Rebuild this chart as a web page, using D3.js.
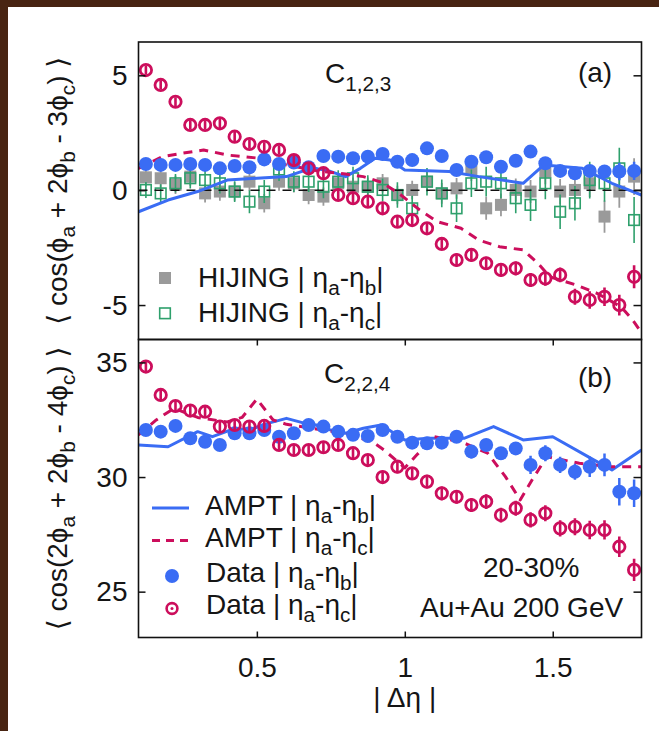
<!DOCTYPE html>
<html><head><meta charset="utf-8">
<script src="https://cdn.jsdelivr.net/npm/d3@7"></script>
<style>
html,body{margin:0;padding:0;background:#fff;}
svg{display:block;}
text{font-family:"Liberation Sans",Arial,Helvetica,"DejaVu Sans",sans-serif;fill:#151515;}
</style></head><body>
<svg id="chart" width="659" height="731"></svg>
<script>
// |Δη| bin centres shared by every measured / HIJING series
const dEta = [0.125,0.175,0.225,0.275,0.325,0.375,0.425,0.475,0.525,0.575,0.625,0.675,0.725,0.775,0.825,0.875,0.925,0.975,1.025,1.075,1.125,1.175,1.225,1.275,1.325,1.375,1.425,1.475,1.525,1.575,1.625,1.675,1.725,1.775];

// ---- panel (a): C_{1,2,3} ----
const c123DataB = [1.14,1.10,1.10,1.14,1.10,0.95,1.05,1.00,1.34,1.14,1.20,1.00,1.49,1.46,1.39,1.46,1.58,1.24,1.31,1.82,1.49,0.88,1.24,1.43,1.02,1.28,1.68,1.17,0.84,0.74,0.84,0.81,0.81,0.84];
const c123DataBErr = [0.12,0.12,0.12,0.12,0.12,0.12,0.12,0.12,0.12,0.12,0.12,0.12,0.12,0.12,0.12,0.12,0.12,0.14,0.14,0.14,0.14,0.14,0.15,0.15,0.15,0.16,0.16,0.18,0.2,0.22,0.25,0.28,0.38,0.4];
const c123DataC = [5.23,4.58,3.85,2.84,2.84,2.91,2.33,2.01,1.89,1.75,1.31,0.95,0.74,-0.21,-0.35,-0.50,-0.79,-1.37,-1.30,-1.66,-2.34,-3.04,-2.82,-3.18,-3.47,-3.40,-3.91,-3.84,-3.69,-4.64,-4.78,-4.64,-5.00,-3.77];
const c123DataCErr = [0.2,0.2,0.2,0.2,0.2,0.2,0.2,0.2,0.2,0.2,0.22,0.22,0.22,0.22,0.22,0.22,0.25,0.25,0.25,0.25,0.25,0.28,0.28,0.28,0.3,0.3,0.3,0.32,0.32,0.35,0.38,0.4,0.45,0.5];
const c123HijingB = [0.56,0.52,0.23,0.59,-0.14,-0.06,-0.06,0.37,-0.57,0.37,0.30,-0.21,-0.28,0.30,0.15,0.15,0.30,-0.21,0.01,0.37,-0.14,0.08,0.90,-0.79,-0.64,0.01,-0.06,0.81,-0.06,0.01,0.30,-1.15,-0.06,0.59];
const c123HijingBErr = [0.4,0.4,0.4,0.4,0.4,0.4,0.4,0.4,0.4,0.4,0.4,0.4,0.4,0.4,0.4,0.4,0.4,0.4,0.4,0.45,0.45,0.45,0.5,0.5,0.5,0.5,0.5,0.55,0.55,0.6,0.6,0.7,0.7,0.8];
const c123HijingC = [0.01,-0.14,0.30,0.52,0.44,0.30,-0.06,-0.50,-0.06,0.90,0.37,0.37,0.15,0.37,0.52,0.15,0.01,-0.21,-0.79,0.37,-0.14,-0.79,0.30,0.37,0.30,-0.35,-0.64,0.30,-0.94,-0.57,0.44,0.30,0.95,-1.30];
const c123HijingCErr = [0.35,0.4,0.4,0.45,0.45,0.45,0.45,0.5,0.5,0.5,0.45,0.45,0.5,0.5,0.5,0.5,0.5,0.55,0.55,0.6,0.6,0.6,0.6,0.65,0.65,0.65,0.7,0.7,0.75,0.75,0.8,0.8,0.9,1.0];
// AMPT model curves for panel (a)
const c123AmptBX = [0.1,0.2,0.3,0.4,0.5,0.6,0.65,0.7,0.75,0.8,0.85,0.9,0.95,1.0,1.15,1.25,1.4,1.47,1.6,1.7,1.8];
const c123AmptB  = [-0.94,-0.43,-0.06,0.44,0.52,0.59,0.81,0.95,0.81,0.59,0.95,1.39,1.31,0.88,0.81,0.59,0.30,1.10,0.95,0.30,-0.21];
const c123AmptCX = [0.1,0.18,0.25,0.32,0.4,0.5,0.6,0.7,0.8,0.86,0.92,0.98,1.05,1.11,1.19,1.25,1.32,1.4,1.45,1.49,1.58,1.65,1.73,1.77,1.8];
const c123AmptC  = [0.95,1.46,1.61,1.75,1.53,1.4,1.1,0.85,0.7,0.59,0.35,-0.14,-0.86,-1.37,-1.66,-2.17,-2.46,-2.60,-3.18,-3.77,-4.13,-4.49,-5.07,-5.65,-6.2];

// ---- panel (b): C_{2,2,4} ----
const c224DataB = [32.05,31.98,32.23,31.69,31.54,31.40,31.91,31.91,32.05,31.76,31.91,32.27,32.20,31.98,31.84,31.79,32.05,31.76,31.50,31.47,31.50,31.76,31.11,31.40,31.04,31.25,30.53,31.04,30.53,30.23,30.45,30.53,29.36,29.29];
const c224DataBErr = [0.12,0.12,0.12,0.12,0.12,0.12,0.12,0.12,0.12,0.12,0.12,0.12,0.12,0.12,0.12,0.12,0.14,0.14,0.14,0.15,0.15,0.15,0.3,0.18,0.2,0.2,0.4,0.35,0.35,0.35,0.45,0.5,0.6,0.6];
const c224DataC = [34.82,33.58,33.10,32.90,32.85,32.20,32.27,32.20,32.23,31.40,31.18,31.18,31.30,31.40,31.04,30.74,30.00,30.45,30.16,29.80,29.29,29.14,28.78,28.93,28.34,28.64,28.13,28.42,27.76,27.83,27.69,27.69,26.96,25.95];
const c224DataCErr = [0.25,0.25,0.25,0.25,0.25,0.25,0.25,0.25,0.25,0.25,0.25,0.25,0.25,0.25,0.27,0.27,0.27,0.28,0.28,0.3,0.3,0.3,0.3,0.32,0.32,0.33,0.33,0.35,0.35,0.37,0.4,0.42,0.45,0.48];
const c224AmptBX = [0.1,0.2,0.3,0.35,0.41,0.49,0.54,0.6,0.66,0.7,0.75,0.8,0.86,0.92,1.0,1.08,1.2,1.3,1.4,1.5,1.64,1.7,1.8];
const c224AmptB  = [31.40,31.32,31.98,31.76,32.05,32.13,32.35,32.56,32.35,32.27,32.05,31.91,32.13,32.27,31.62,31.69,31.69,32.20,31.62,31.76,30.74,30.31,31.18];
const c224AmptCX = [0.1,0.16,0.22,0.3,0.4,0.45,0.5,0.555,0.6,0.7,0.8,0.89,0.93,1.0,1.04,1.1,1.19,1.28,1.34,1.39,1.43,1.48,1.59,1.7,1.8];
const c224AmptC  = [31.84,32.49,33.0,32.6,32.4,32.6,33.4,32.49,32.3,32.1,31.9,31.54,31.18,30.4,30.96,31.76,31.54,31.04,30.02,29.0,29.87,30.89,30.6,30.45,30.45];

// axis ticks
const xTicks = [0.5, 1, 1.5];
const xTickLabels = ["0.5", "1", "1.5"];
const yTicksA = [5, 0, -5];
const yTickLabelsA = ["5", "0", "-5"];
const yTicksB = [35, 30, 25];
const yTickLabelsB = ["35", "30", "25"];

// colours
const BLUE = "#3a6cf4", RED = "#cc0e5c", GRAY = "#9a9a9a", GREEN = "#2ea06c";
const FS = 28;

const svg = d3.select("#chart");
svg.append("rect").attr("width", 659).attr("height", 731).attr("fill", "#fff");
// dark page edge
svg.append("rect").attr("x", 0).attr("y", 0).attr("width", 8).attr("height", 731).attr("fill", "#482412");
svg.append("rect").attr("x", 0).attr("y", 0).attr("width", 659).attr("height", 7).attr("fill", "#482412");

const L = 138.5, R = 641.5, T = 42, M = 339.5, B = 637.5;
const x = d3.scaleLinear().domain([0.1, 1.8]).range([L, R]);
const yA = d3.scaleLinear().domain([-6.5, 6.45]).range([M, T]);
const yB = d3.scaleLinear().domain([23, 36]).range([B, M]);

const defs = svg.append("defs");
defs.append("clipPath").attr("id", "clipA").append("rect").attr("x", L).attr("y", T).attr("width", R - L).attr("height", M - T);
defs.append("clipPath").attr("id", "clipB").append("rect").attr("x", L).attr("y", M).attr("width", R - L).attr("height", B - M);

// text with subscripts given as [str] / [str,"sub"] parts
function rich(t, parts, fs) {
  const shift = fs * 0.28, subFs = fs * 0.74;
  let inSub = false;
  parts.forEach(p => {
    const sub = p[1] === "sub";
    const ts = t.append("tspan").text(p[0]);
    if (sub && !inSub) ts.attr("dy", shift);
    if (!sub && inSub) ts.attr("dy", -shift);
    if (sub) ts.attr("font-size", subFs);
    inSub = sub;
  });
  return t;
}

function pts(xs, ys, es) { return xs.map((d, i) => ({ x: d, y: ys[i], e: es ? es[i] : 0 })); }

function errBars(g, data, y, color, w) {
  g.append("g").selectAll("line").data(data).join("line")
    .attr("x1", d => x(d.x)).attr("x2", d => x(d.x))
    .attr("y1", d => y(d.y - d.e)).attr("y2", d => y(d.y + d.e))
    .attr("stroke", color).attr("stroke-width", w);
}
function modelLine(g, xs, ys, y, color, dash) {
  const line = d3.line().x(d => x(d.x)).y(d => y(d.y));
  g.append("path").datum(pts(xs, ys)).attr("d", line)
    .attr("fill", "none").attr("stroke", color).attr("stroke-width", 3)
    .attr("stroke-dasharray", dash || null).attr("stroke-linejoin", "round");
}
function filledDots(g, data, y) {
  errBars(g, data, y, BLUE, 2.5);
  g.append("g").selectAll("circle").data(data).join("circle")
    .attr("cx", d => x(d.x)).attr("cy", d => y(d.y)).attr("r", 7).attr("fill", BLUE);
}
function openRings(g, data, y) {
  g.append("g").selectAll("circle").data(data).join("circle")
    .attr("cx", d => x(d.x)).attr("cy", d => y(d.y)).attr("r", 5.7)
    .attr("fill", "none").attr("stroke", RED).attr("stroke-width", 2.8);
  errBars(g, data, y, RED, 2.6);
}

// ---------- panel (a) ----------
const gA = svg.append("g").attr("clip-path", "url(#clipA)");
const hb = pts(dEta, c123HijingB, c123HijingBErr);
errBars(gA, hb, yA, GRAY, 1.8);
gA.append("g").selectAll("rect").data(hb).join("rect")
  .attr("x", d => x(d.x) - 6).attr("y", d => yA(d.y) - 6).attr("width", 12).attr("height", 12).attr("fill", GRAY);
const hc = pts(dEta, c123HijingC, c123HijingCErr);
errBars(gA, hc, yA, GREEN, 1.6);
gA.append("g").selectAll("rect").data(hc).join("rect")
  .attr("x", d => x(d.x) - 5.3).attr("y", d => yA(d.y) - 5.3).attr("width", 10.6).attr("height", 10.6)
  .attr("fill", "none").attr("stroke", GREEN).attr("stroke-width", 1.6);
// zero reference
gA.append("line").attr("x1", L).attr("x2", R).attr("y1", yA(0)).attr("y2", yA(0))
  .attr("stroke", "#111").attr("stroke-width", 1.5).attr("stroke-dasharray", "9,7");
modelLine(gA, c123AmptBX, c123AmptB, yA, BLUE);
modelLine(gA, c123AmptCX, c123AmptC, yA, RED, "9,7");
filledDots(gA, pts(dEta, c123DataB, c123DataBErr), yA);
openRings(gA, pts(dEta, c123DataC, c123DataCErr), yA);

// ---------- panel (b) ----------
const gB = svg.append("g").attr("clip-path", "url(#clipB)");
modelLine(gB, c224AmptBX, c224AmptB, yB, BLUE);
modelLine(gB, c224AmptCX, c224AmptC, yB, RED, "9,7");
filledDots(gB, pts(dEta, c224DataB, c224DataBErr), yB);
openRings(gB, pts(dEta, c224DataC, c224DataCErr), yB);

// ---------- frames and axes ----------
function styleAxis(g) {
  g.select(".domain").remove();
  g.selectAll(".tick line").attr("stroke", "#111").attr("stroke-width", 1.5);
  g.selectAll(".tick text").attr("font-size", FS).attr("fill", "#151515")
    .style("font-family", '"Liberation Sans",Arial,sans-serif');
}
svg.append("g").attr("transform", `translate(${L},0)`)
  .call(d3.axisLeft(yA).tickValues(yTicksA).tickFormat((d, i) => yTickLabelsA[i]).tickSizeInner(-7).tickSizeOuter(0).tickPadding(11))
  .call(styleAxis);
svg.append("g").attr("transform", `translate(${R},0)`)
  .call(d3.axisRight(yA).tickValues(yTicksA).tickFormat("").tickSizeInner(-8).tickSizeOuter(0))
  .call(styleAxis);
svg.append("g").attr("transform", `translate(${L},0)`)
  .call(d3.axisLeft(yB).tickValues(yTicksB).tickFormat((d, i) => yTickLabelsB[i]).tickSizeInner(-7).tickSizeOuter(0).tickPadding(11))
  .call(styleAxis);
svg.append("g").attr("transform", `translate(${R},0)`)
  .call(d3.axisRight(yB).tickValues(yTicksB).tickFormat("").tickSizeInner(-8).tickSizeOuter(0))
  .call(styleAxis);
const xAxisG = svg.append("g").attr("transform", `translate(0,${B})`)
  .call(d3.axisBottom(x).tickValues(xTicks).tickFormat((d, i) => xTickLabels[i]).tickSizeInner(-6).tickSizeOuter(0))
  .call(styleAxis);
xAxisG.selectAll(".tick text").attr("y", 39).attr("dy", null);
svg.append("g").attr("transform", `translate(0,${M})`)
  .call(d3.axisTop(x).tickValues(xTicks).tickFormat("").tickSizeInner(-6).tickSizeOuter(0))
  .call(styleAxis);

svg.append("rect").attr("x", L).attr("y", T).attr("width", R - L).attr("height", M - T)
  .attr("fill", "none").attr("stroke", "#111").attr("stroke-width", 1.6);
svg.append("rect").attr("x", L).attr("y", M).attr("width", R - L).attr("height", B - M)
  .attr("fill", "none").attr("stroke", "#111").attr("stroke-width", 1.6);

// ---------- titles and labels ----------
rich(svg.append("text").attr("x", 325).attr("y", 83).attr("font-size", 28), [["C"], ["1,2,3", "sub"]], 28);
svg.append("text").attr("x", 595).attr("y", 82).attr("text-anchor", "middle").attr("font-size", FS).text("(a)");
rich(svg.append("text").attr("x", 324).attr("y", 383).attr("font-size", 28), [["C"], ["2,2,4", "sub"]], 28);
svg.append("text").attr("x", 595).attr("y", 387).attr("text-anchor", "middle").attr("font-size", FS).text("(b)");

rich(svg.append("text").attr("transform", `translate(67,${(T + M) / 2}) rotate(-90)`).attr("text-anchor", "middle").attr("font-size", FS),
  [["⟨ cos(ϕ"], ["a", "sub"], [" + 2ϕ"], ["b", "sub"], [" - 3ϕ"], ["c", "sub"], [") ⟩"]], FS);
rich(svg.append("text").attr("transform", `translate(67,${(M + B) / 2}) rotate(-90)`).attr("text-anchor", "middle").attr("font-size", FS),
  [["⟨ cos(2ϕ"], ["a", "sub"], [" + 2ϕ"], ["b", "sub"], [" - 4ϕ"], ["c", "sub"], [") ⟩"]], FS);
svg.append("text").attr("x", x(1)).attr("y", 707).attr("text-anchor", "middle").attr("font-size", FS).text("| Δη |");

svg.append("text").attr("x", 483).attr("y", 577).attr("font-size", FS).text("20-30%");
svg.append("text").attr("x", 420).attr("y", 617).attr("font-size", FS).text("Au+Au 200 GeV");

// ---------- legends ----------
const legA = svg.append("g");
legA.append("rect").attr("x", 159).attr("y", 272).attr("width", 12).attr("height", 12).attr("fill", GRAY);
rich(legA.append("text").attr("x", 198).attr("y", 287).attr("font-size", FS), [["HIJING | η"], ["a", "sub"], ["-η"], ["b", "sub"], ["|"]], FS);
legA.append("rect").attr("x", 159.7).attr("y", 308).attr("width", 10.6).attr("height", 10.6)
  .attr("fill", "none").attr("stroke", GREEN).attr("stroke-width", 1.6);
rich(legA.append("text").attr("x", 198).attr("y", 322).attr("font-size", FS), [["HIJING | η"], ["a", "sub"], ["-η"], ["c", "sub"], ["|"]], FS);

const legB = svg.append("g");
legB.append("line").attr("x1", 152).attr("x2", 189).attr("y1", 508).attr("y2", 508).attr("stroke", BLUE).attr("stroke-width", 3);
rich(legB.append("text").attr("x", 205).attr("y", 515).attr("font-size", FS), [["AMPT | η"], ["a", "sub"], ["-η"], ["b", "sub"], ["|"]], FS);
legB.append("line").attr("x1", 152).attr("x2", 189).attr("y1", 540.5).attr("y2", 540.5).attr("stroke", RED).attr("stroke-width", 3).attr("stroke-dasharray", "8,6");
rich(legB.append("text").attr("x", 205).attr("y", 547).attr("font-size", FS), [["AMPT | η"], ["a", "sub"], ["-η"], ["c", "sub"], ["|"]], FS);
legB.append("circle").attr("cx", 172).attr("cy", 576).attr("r", 7).attr("fill", BLUE);
rich(legB.append("text").attr("x", 206).attr("y", 582).attr("font-size", FS), [["Data | η"], ["a", "sub"], ["-η"], ["b", "sub"], ["|"]], FS);
legB.append("circle").attr("cx", 172).attr("cy", 608.5).attr("r", 5.4).attr("fill", "none").attr("stroke", RED).attr("stroke-width", 2.6);
legB.append("circle").attr("cx", 172).attr("cy", 608.5).attr("r", 1.5).attr("fill", RED);
rich(legB.append("text").attr("x", 206).attr("y", 614).attr("font-size", FS), [["Data | η"], ["a", "sub"], ["-η"], ["c", "sub"], ["|"]], FS);
</script>
</body></html>
